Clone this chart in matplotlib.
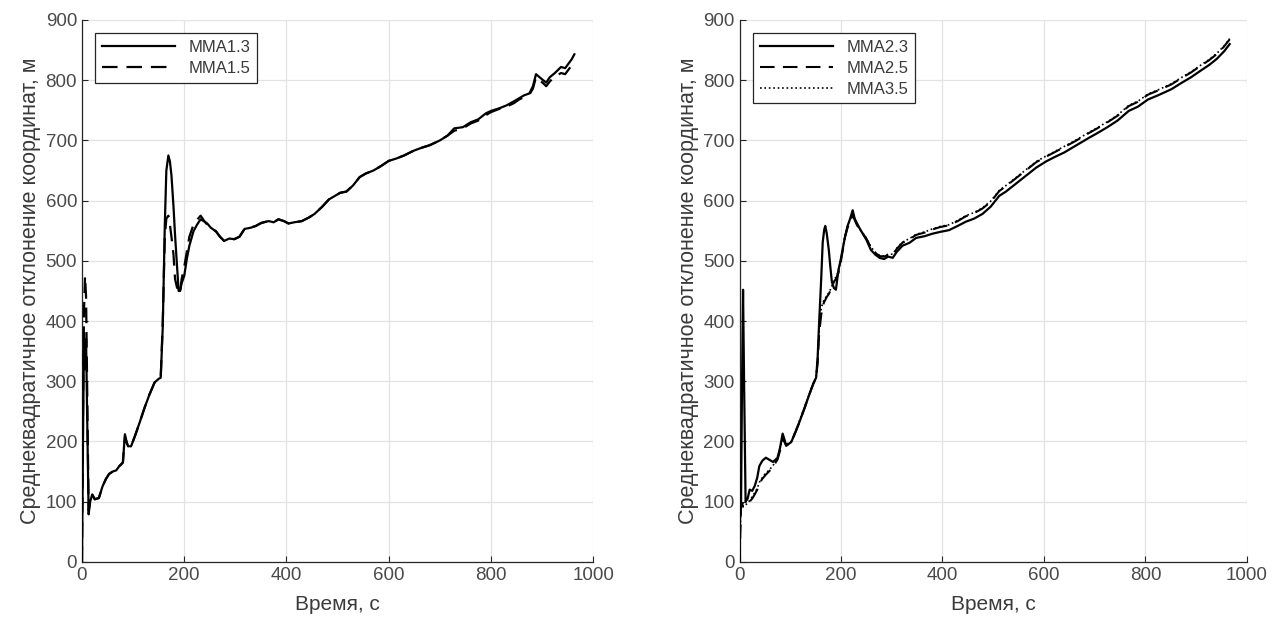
import numpy as np
import matplotlib
matplotlib.use("Agg")
from matplotlib import pyplot as plt

plt.rcParams['font.family'] = ['Liberation Sans', 'DejaVu Sans']

# left panel
t_left = [0, 2, 4, 6, 8, 10, 13, 16, 20, 25, 33, 40, 47, 53, 60, 67, 73, 80, 84, 87,
          90, 96, 104, 113, 122, 132, 142, 150, 154, 158, 162, 165, 169, 172, 175, 179, 182, 186, 189, 192,
          195, 200, 205, 210, 218, 225, 232, 240, 245, 252, 262, 270, 278, 288, 298, 308, 318, 330, 340, 351,
          365, 375, 384, 395, 404, 415, 430, 444, 455, 470, 483, 495, 505, 517, 530, 543, 555, 570, 584, 600,
          615, 630, 649, 665, 680, 700, 715, 728, 745, 760, 775, 790, 800, 815, 830, 845, 855, 865, 875, 882,
          888, 895, 902, 908, 915, 925, 937, 945, 952, 958, 963]
mma13 = [0, 200, 380, 320, 370, 250, 79, 100, 112, 104, 106, 125, 138, 146, 150, 152, 159, 165, 212, 200,
         192, 192, 210, 232, 255, 278, 298, 304, 306, 390, 560, 650, 675, 665, 642, 590, 543, 490, 450, 450,
         463, 475, 503, 525, 549, 560, 569, 565, 562, 555, 549, 540, 533, 537, 536, 540, 553, 555, 558, 563,
         566, 564, 569, 566, 562, 564, 566, 572, 578, 590, 602, 608, 613, 615, 625, 639, 645, 650, 657, 666,
         670, 675, 683, 688, 692, 700, 708, 720, 722, 730, 735, 745, 749, 753, 758, 765, 770, 775, 778, 790,
         810, 805, 800, 796, 805, 812, 822, 820, 828, 835, 843]
mma15 = [0, 250, 420, 475, 440, 300, 85, 100, 112, 104, 106, 125, 138, 146, 150, 152, 159, 165, 208, 200,
         192, 192, 210, 232, 255, 278, 298, 304, 306, 400, 540, 570, 575, 560, 540, 510, 470, 455, 460, 450,
         470, 490, 515, 540, 560, 568, 575, 565, 560, 555, 549, 540, 533, 537, 536, 540, 553, 555, 558, 563,
         566, 564, 569, 566, 562, 564, 566, 572, 578, 590, 602, 608, 613, 615, 625, 639, 645, 650, 657, 666,
         670, 675, 683, 688, 692, 700, 708, 716, 720, 728, 733, 742, 747, 752, 756, 762, 768, 772, 776, 786,
         805, 800, 795, 790, 798, 806, 812, 810, 818, 825, 832]

# right panel
t_right = [0, 2, 3, 5, 7, 9, 12, 16, 20, 25, 30, 35, 39, 45, 52, 58, 66, 75, 80, 85,
           88, 92, 97, 102, 110, 118, 128, 138, 145, 151, 154, 157, 161, 164, 167, 169, 172, 176, 179, 182,
           186, 190, 195, 199, 203, 208, 213, 218, 223, 227, 230, 236, 243, 250, 259, 268, 276, 285, 293, 302,
           310, 321, 335, 348, 365, 380, 395, 413, 430, 446, 462, 479, 495, 512, 525, 540, 555, 570, 585, 604,
           620, 640, 660, 688, 705, 725, 745, 767, 785, 805, 825, 851, 870, 890, 909, 925, 940, 955, 966]
mma23 = [0, 133, 90, 300, 452, 300, 100, 105, 120, 118, 126, 140, 159, 168, 173, 170, 166, 173, 190, 213,
         205, 193, 196, 199, 215, 232, 255, 279, 295, 306, 340, 399, 470, 531, 552, 558, 545, 518, 490, 465,
         455, 452, 485, 500, 518, 540, 558, 570, 584, 570, 565, 555, 545, 535, 518, 510, 505, 503, 507, 505,
         515, 525, 530, 538, 541, 545, 548, 551, 558, 565, 570, 578, 590, 608, 615, 625, 635, 645, 655, 665,
         672, 680, 690, 704, 712, 722, 733, 749, 756, 768, 775, 785, 795, 805, 816, 825, 835, 848, 860]
mma25 = [0, 60, 90, 95, 92, 92, 93, 95, 100, 105, 112, 120, 130, 138, 145, 150, 158, 170, 185, 205,
         200, 193, 196, 199, 215, 232, 255, 279, 295, 306, 330, 380, 410, 425, 432, 435, 440, 445, 450, 455,
         465, 470, 480, 495, 515, 540, 555, 565, 575, 568, 562, 552, 545, 537, 522, 513, 508, 507, 510, 510,
         520, 530, 536, 543, 547, 552, 556, 559, 566, 574, 579, 587, 598, 616, 624, 634, 644, 654, 664, 673,
         680, 689, 698, 712, 720, 730, 741, 757, 764, 776, 783, 793, 803, 813, 824, 833, 843, 856, 868]
mma35 = [0, 70, 95, 100, 96, 94, 95, 97, 102, 108, 115, 122, 132, 140, 148, 152, 160, 172, 188, 208,
         202, 195, 198, 200, 216, 234, 257, 280, 296, 307, 335, 390, 420, 430, 436, 438, 442, 447, 452, 458,
         468, 473, 483, 498, 518, 543, 558, 568, 577, 570, 563, 553, 546, 538, 523, 514, 509, 508, 511, 511,
         521, 531, 537, 544, 548, 553, 557, 560, 567, 575, 580, 588, 599, 617, 625, 635, 645, 655, 665, 674,
         681, 690, 699, 713, 721, 731, 742, 758, 765, 777, 784, 794, 804, 814, 825, 834, 844, 857, 869]

xlabel = "Время, с"
ylabel = "Среднеквадратичное отклонение координат, м"

fig = plt.figure(figsize=(12.75, 6.25), dpi=100)
ax1 = fig.add_axes([0.0643, 0.101, 0.401, 0.867])
ax2 = fig.add_axes([0.580, 0.101, 0.398, 0.867])


def style(ax):
    ax.set_xlim(0, 1000)
    ax.set_ylim(0, 900)
    ax.set_xticks(np.arange(0, 1001, 200))
    ax.set_yticks(np.arange(0, 901, 100))
    ax.grid(True, color='#e3e3e3', lw=0.9)
    ax.set_axisbelow(True)
    for s in ['top', 'right']:
        ax.spines[s].set_visible(False)
    for s in ['left', 'bottom']:
        ax.spines[s].set_color('#262626')
        ax.spines[s].set_linewidth(0.9)
    ax.tick_params(direction='in', length=4, labelsize=13.5, colors='#262626',
                   labelcolor='#4a4a4a')
    ax.set_xlabel(xlabel, fontsize=15, color='#3a3a3a', labelpad=8)
    ax.set_ylabel(ylabel, fontsize=15.5, color='#3a3a3a', labelpad=3)


ax1.plot(t_left, mma15, 'k--', lw=1.6, dashes=(7, 4), label='MMA1.5', zorder=3)
ax1.plot(t_left, mma13, 'k-', lw=1.6, label='MMA1.3', zorder=4)
style(ax1)
h, l = ax1.get_legend_handles_labels()
leg = ax1.legend(h[::-1], l[::-1], loc='upper left', fontsize=12, handlelength=4.4,
                 fancybox=False, edgecolor='#262626', framealpha=1, borderaxespad=0.8,
                 labelcolor='#3a3a3a', labelspacing=0.35)
leg.get_frame().set_linewidth(0.9)

ax2.plot(t_right, mma35, 'k:', lw=1.2, label='MMA3.5', zorder=2)
ax2.plot(t_right, mma25, 'k--', lw=1.5, dashes=(7, 4), label='MMA2.5', zorder=3)
ax2.plot(t_right, mma23, 'k-', lw=1.6, label='MMA2.3', zorder=4)
style(ax2)
h, l = ax2.get_legend_handles_labels()
leg = ax2.legend(h[::-1], l[::-1], loc='upper left', fontsize=12, handlelength=4.4,
                 fancybox=False, edgecolor='#262626', framealpha=1, borderaxespad=0.8,
                 labelcolor='#3a3a3a', labelspacing=0.35)
leg.get_frame().set_linewidth(0.9)

fig.savefig("out.png", dpi=100)
